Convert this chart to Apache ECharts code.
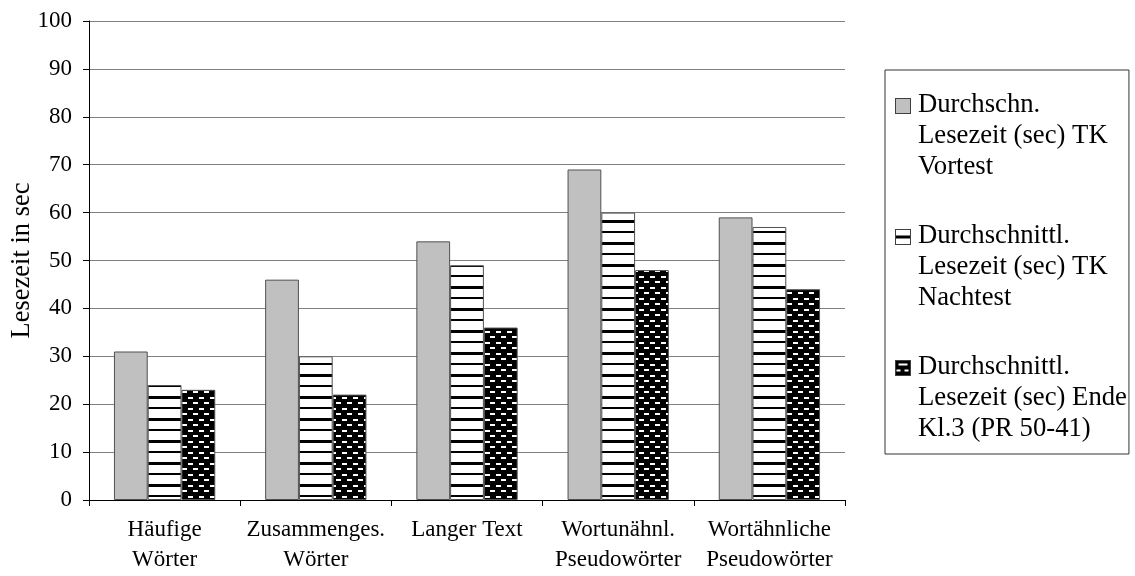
<!DOCTYPE html>
<html>
<head>
<meta charset="utf-8">
<script src="https://cdn.jsdelivr.net/npm/echarts@6/dist/echarts.min.js"></script>
<style>
  html, body { margin: 0; padding: 0; background: #fff; }
  #chart { width: 1135px; height: 576px; }
</style>
</head>
<body>
<div id="chart"></div>
<script>
// Reading tasks (x-axis categories)
const categories = ['Häufige\nWörter', 'Zusammenges.\nWörter', 'Langer Text', 'Wortunähnl.\nPseudowörter', 'Wortähnliche\nPseudowörter'];

// Mean reading time in seconds per test
const vortest = [31, 46, 54, 69, 59];
const nachtest = [24, 30, 49, 60, 57];
const endeKl3 = [23, 22, 36, 48, 44];

const seriesNames = [
  'Durchschn.\nLesezeit (sec) TK\nVortest',
  'Durchschnittl.\nLesezeit (sec) TK\nNachtest',
  'Durchschnittl.\nLesezeit (sec) Ende\nKl.3 (PR 50-41)'
];

const yTicks = [0, 10, 20, 30, 40, 50, 60, 70, 80, 90, 100];

const FONT = '"Liberation Serif", "DejaVu Serif", serif';

// Fill patterns
function stripeCanvas() {
  const c = document.createElement('canvas');
  c.width = 8; c.height = 22;
  const g = c.getContext('2d');
  g.fillStyle = '#fff'; g.fillRect(0, 0, 8, 22);
  g.fillStyle = '#000';
  g.fillRect(0, 0, 8, 3);
  g.fillRect(0, 11, 8, 2);
  return c;
}
function checkerCanvas() {
  const c = document.createElement('canvas');
  c.width = 11; c.height = 11;
  const g = c.getContext('2d');
  g.fillStyle = '#000'; g.fillRect(0, 0, 11, 11);
  g.fillStyle = '#fff';
  g.fillRect(1, 1, 5, 2);
  g.fillRect(6, 6, 5, 2);
  g.fillRect(-5, 6, 5, 2);
  return c;
}
const stripe = stripeCanvas();
const checker = checkerCanvas();

// Legend icons: swatch sits beside the first text line
function legendIcon(kind) {
  const c = document.createElement('canvas');
  c.width = 18; c.height = 93;
  const g = c.getContext('2d');
  const x = 0.5, y = 9.5, s = 15;
  if (kind === 0) {
    g.fillStyle = '#c0c0c0'; g.fillRect(x, y, s, s);
  } else if (kind === 1) {
    g.fillStyle = '#fff'; g.fillRect(x, y, s, s);
    g.fillStyle = '#000'; g.fillRect(x, y + 6, s, 3);
  } else {
    g.fillStyle = '#000'; g.fillRect(x, y, s, s);
    g.fillStyle = '#fff';
    g.fillRect(x + 3, y + 3, 9, 2);
    g.fillRect(x + 1, y + 9, 4, 2);
    g.fillRect(x + 9, y + 9, 4, 2);
  }
  g.strokeStyle = '#404040'; g.lineWidth = 1;
  g.strokeRect(x, y, s, s);
  return 'image://' + c.toDataURL();
}

const chart = echarts.init(document.getElementById('chart'), null, { renderer: 'canvas' });

const barBorder = { borderColor: '#505050', borderWidth: 1 };

chart.setOption({
  animation: false,
  backgroundColor: '#fff',
  grid: { left: 89, right: 290, top: 21, bottom: 76, containLabel: false, outerBoundsMode: 'none' },
  legend: {
    orient: 'vertical',
    left: 885,
    top: 70,
    padding: [19, 2, 10, 10],
    itemGap: 38,
    itemWidth: 18,
    itemHeight: 93,
    borderColor: '#333',
    borderWidth: 1,
    textStyle: { fontFamily: FONT, fontSize: 26.7, lineHeight: 31, color: '#000' },
    data: [
      { name: seriesNames[0], icon: legendIcon(0) },
      { name: seriesNames[1], icon: legendIcon(1) },
      { name: seriesNames[2], icon: legendIcon(2) }
    ]
  },
  xAxis: {
    type: 'category',
    data: categories,
    axisLine: { lineStyle: { color: '#000', width: 1 } },
    axisTick: { show: true, length: 6, lineStyle: { color: '#000' } },
    axisLabel: { interval: 0, margin: 15, fontFamily: FONT, fontSize: 23, lineHeight: 30, color: '#000' }
  },
  yAxis: {
    type: 'value',
    min: yTicks[0],
    max: yTicks[yTicks.length - 1],
    interval: 10,
    name: 'Lesezeit in sec',
    nameLocation: 'middle',
    nameRotate: 90,
    nameGap: 53,
    nameMoveOverlap: false,
    nameTextStyle: { fontFamily: FONT, fontSize: 26.5, color: '#000' },
    axisLine: { show: true, lineStyle: { color: '#000', width: 1 } },
    axisTick: { show: true, length: 6, lineStyle: { color: '#000' } },
    axisLabel: { margin: 17, fontFamily: FONT, fontSize: 23, color: '#000' },
    splitLine: { show: true, lineStyle: { color: '#808080', width: 1 } }
  },
  series: [
    {
      name: seriesNames[0], type: 'bar', data: vortest,
      barGap: '0%', barCategoryGap: '33%',
      itemStyle: Object.assign({ color: '#c0c0c0' }, barBorder)
    },
    {
      name: seriesNames[1], type: 'bar', data: nachtest,
      barGap: '0%', barCategoryGap: '33%',
      itemStyle: Object.assign({ color: { image: stripe, repeat: 'repeat' } }, barBorder)
    },
    {
      name: seriesNames[2], type: 'bar', data: endeKl3,
      barGap: '0%', barCategoryGap: '33%',
      itemStyle: Object.assign({ color: { image: checker, repeat: 'repeat' } }, barBorder)
    }
  ]
});
</script>
</body>
</html>
